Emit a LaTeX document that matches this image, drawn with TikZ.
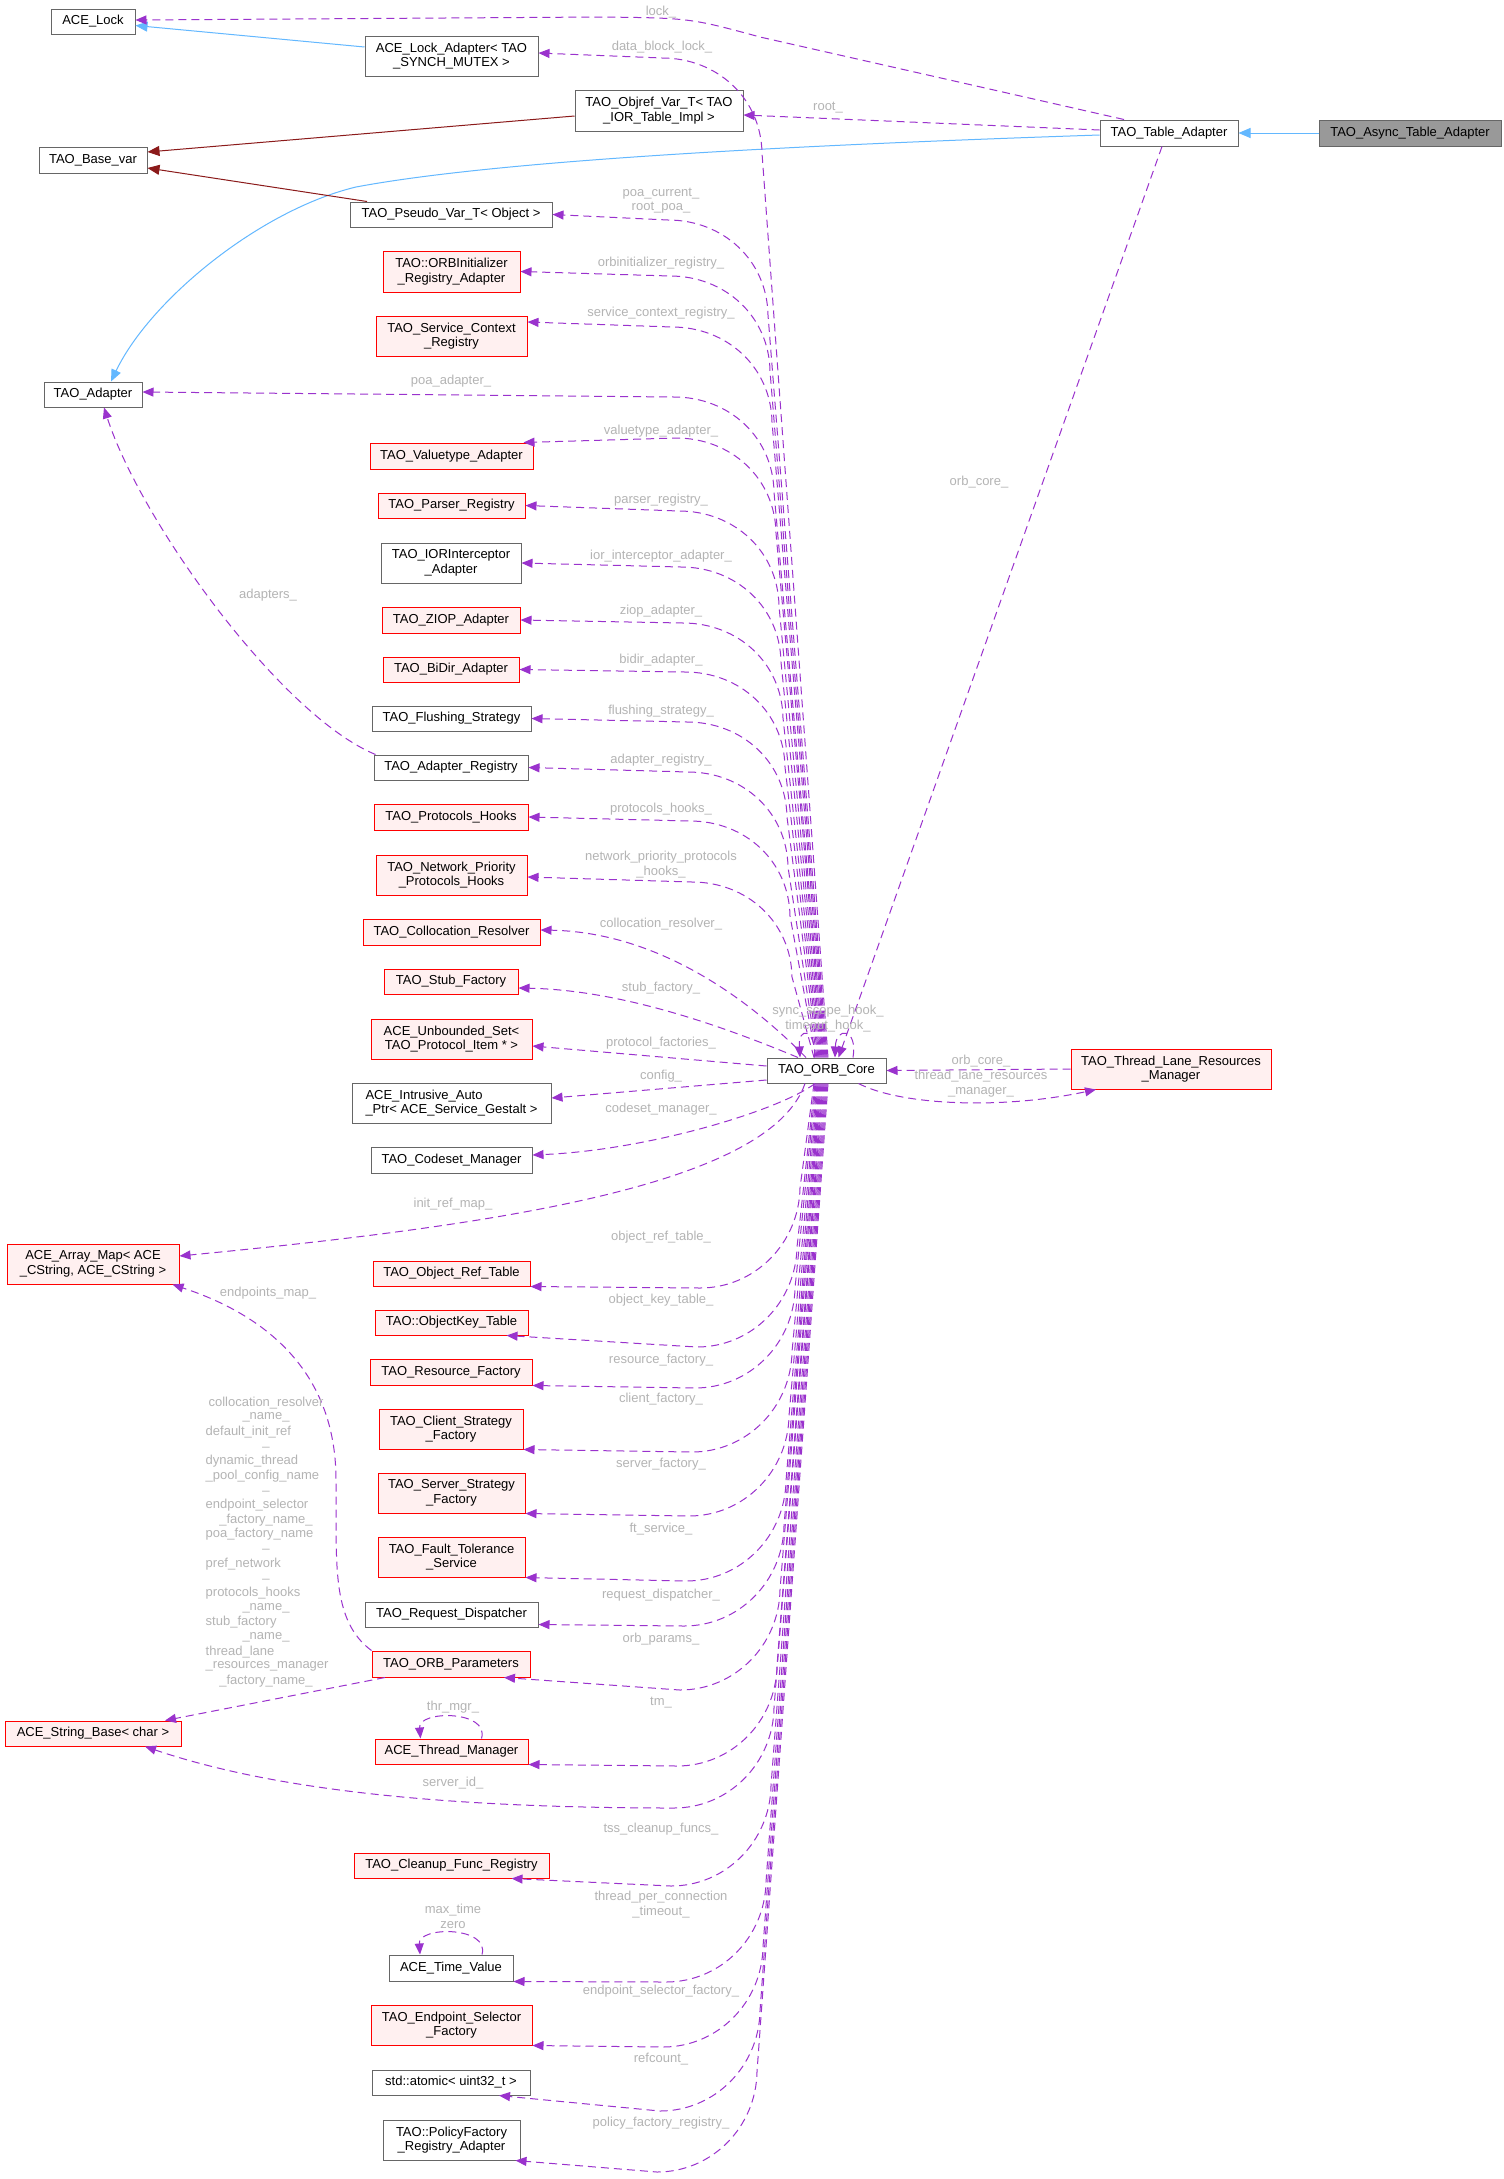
\documentclass[tikz,border=0pt]{standalone}
\usepackage{fontspec}
\setmainfont{Liberation Sans}
\usetikzlibrary{arrows.meta}
\definecolor{relc}{HTML}{9A32CD}
\definecolor{inhc}{HTML}{63B8FF}
\definecolor{tplc}{HTML}{8B1A1A}
\definecolor{gbd}{HTML}{666666}
\definecolor{rbd}{HTML}{FF0000}
\definecolor{rfill}{HTML}{FFF0F0}
\definecolor{afill}{HTML}{999999}
\definecolor{lblc}{HTML}{B4B4B4}
\newcommand\dxfont{\fontsize{13}{14.7}\selectfont}
\begin{document}
\begin{tikzpicture}[x=1pt,y=-1pt,
 cls/.style={draw=gbd, line width=1pt, fill=white, inner sep=0pt, align=center, font=\dxfont},
 rcls/.style={cls, draw=rbd, fill=rfill},
 acls/.style={cls, fill=afill},
 sz/.style 2 args={minimum width=#1pt, minimum height=#2pt},
 rel/.style={draw=relc, line width=1pt, dash pattern=on 8pt off 5pt, -{Triangle[length=11pt,width=9pt]}},
 inh/.style={draw=inhc, line width=1pt, -{Triangle[length=12pt,width=10pt]}},
 tpl/.style={draw=tplc, line width=1pt, -{Triangle[length=12pt,width=10pt]}},
 lbl/.style={text=lblc, font=\dxfont, inner sep=0pt, align=center}]
\fill[white] (0,0) rectangle (1504,2179);
\useasboundingbox (0,0) rectangle (1504,2179);

% ---------------- nodes
\node[cls,sz={84}{25}] (acelock) at (93,21.5) {ACE\_Lock};
\node[cls,sz={173}{40}] (lockadp) at (451.5,56) {ACE\_Lock\_Adapter< TAO\\\_SYNCH\_MUTEX >};
\node[cls,sz={168}{41}] (objref) at (659,110.5) {TAO\_Objref\_Var\_T< TAO\\\_IOR\_Table\_Impl >};
\node[cls,sz={108}{26}] (basevar) at (93,160) {TAO\_Base\_var};
\node[cls,sz={202}{25}] (pseudo) at (451,214.5) {TAO\_Pseudo\_Var\_T< Object >};
\node[rcls,sz={137}{41}] (orbinit) at (451.5,271.5) {TAO::ORBInitializer\\\_Registry\_Adapter};
\node[rcls,sz={151}{40}] (scr) at (451.5,336) {TAO\_Service\_Context\\\_Registry};
\node[cls,sz={98}{25}] (tadapter) at (93,394.5) {TAO\_Adapter};
\node[cls,sz={138}{26}] (tableadp) at (1169,133) {TAO\_Table\_Adapter};
\node[acls,sz={182}{26}] (async) at (1410,133) {TAO\_Async\_Table\_Adapter};
\node[rcls,sz={163}{26}] (vta) at (451.5,456) {TAO\_Valuetype\_Adapter};
\node[rcls,sz={147}{25}] (parser) at (451.5,505.5) {TAO\_Parser\_Registry};
\node[cls,sz={140}{40}] (ior) at (451,563) {TAO\_IORInterceptor\\\_Adapter};
\node[rcls,sz={138}{26}] (ziop) at (451,620) {TAO\_ZIOP\_Adapter};
\node[rcls,sz={136}{25}] (bidir) at (451,669.5) {TAO\_BiDir\_Adapter};
\node[cls,sz={159}{25}] (flush) at (451.5,718.5) {TAO\_Flushing\_Strategy};
\node[cls,sz={154}{25}] (areg) at (451,767.5) {TAO\_Adapter\_Registry};
\node[rcls,sz={154}{26}] (phooks) at (451,817) {TAO\_Protocols\_Hooks};
\node[rcls,sz={151}{40}] (npph) at (451.5,875) {TAO\_Network\_Priority\\\_Protocols\_Hooks};
\node[rcls,sz={177}{26}] (colres) at (451.5,932) {TAO\_Collocation\_Resolver};
\node[rcls,sz={134}{25}] (stubf) at (451,981.5) {TAO\_Stub\_Factory};
\node[rcls,sz={161}{40}] (uset) at (451.5,1039) {ACE\_Unbounded\_Set<\\TAO\_Protocol\_Item * >};
\node[cls,sz={199}{40},align=left] (iap) at (451.5,1103) {ACE\_Intrusive\_Auto\\\_Ptr< ACE\_Service\_Gestalt >};
\node[cls,sz={161}{26}] (codeset) at (451.5,1160) {TAO\_Codeset\_Manager};
\node[rcls,sz={172}{40}] (arraymap) at (93,1264) {ACE\_Array\_Map< ACE\\\_CString, ACE\_CString >};
\node[rcls,sz={157}{25}] (ortable) at (451.5,1273.5) {TAO\_Object\_Ref\_Table};
\node[rcls,sz={153}{25}] (oktable) at (451.5,1322.5) {TAO::ObjectKey\_Table};
\node[rcls,sz={162}{26}] (resf) at (451,1372) {TAO\_Resource\_Factory};
\node[rcls,sz={144}{40}] (csf) at (451,1429) {TAO\_Client\_Strategy\\\_Factory};
\node[rcls,sz={147}{40}] (ssf) at (451.5,1493) {TAO\_Server\_Strategy\\\_Factory};
\node[rcls,sz={147}{40}] (fts) at (451.5,1557) {TAO\_Fault\_Tolerance\\\_Service};
\node[cls,sz={173}{25}] (reqd) at (451.5,1614.5) {TAO\_Request\_Dispatcher};
\node[rcls,sz={158}{26}] (orbp) at (451,1664) {TAO\_ORB\_Parameters};
\node[rcls,sz={176}{25}] (strbase) at (93,1733.5) {ACE\_String\_Base< char >};
\node[rcls,sz={153}{25}] (thrmgr) at (451.5,1751.5) {ACE\_Thread\_Manager};
\node[rcls,sz={195}{25}] (cleanup) at (451.5,1865.5) {TAO\_Cleanup\_Func\_Registry};
\node[cls,sz={124}{26}] (timeval) at (451,1968) {ACE\_Time\_Value};
\node[rcls,sz={161}{40}] (esf) at (451.5,2025) {TAO\_Endpoint\_Selector\\\_Factory};
\node[cls,sz={158}{25}] (atomic) at (451,2082.5) {std::atomic< uint32\_t >};
\node[cls,sz={137}{40}] (pfra) at (451.5,2140) {TAO::PolicyFactory\\\_Registry\_Adapter};
\node[cls,sz={119}{25}] (core) at (826.5,1070.5) {TAO\_ORB\_Core};
\node[rcls,sz={200}{40}] (tlrm) at (1171,1069) {TAO\_Thread\_Lane\_Resources\\\_Manager};

% ---------------- inheritance / template edges
\draw[inh] (async.west) -- (tableadp.east);
\draw[inh] ([yshift=9pt]lockadp.west) -- ([yshift=-4pt]acelock.east);
\draw[inh] ([yshift=-2pt]tableadp.west) .. controls (800,145) and (500,160) .. (356,187)
  .. controls (260,210) and (150,300) .. ([xshift=18pt]tadapter.north);
\draw[tpl] ([yshift=-5.5pt]objref.west) -- ([yshift=8pt]basevar.east);
\draw[tpl] ([xshift=-84pt]pseudo.north) -- ([yshift=-8pt]basevar.east);

% ---------------- Table adapter usage edges
\draw[rel] ([xshift=-45pt]tableadp.north) -- (760,37) .. controls (690,18) .. (600,17) -- ([yshift=1.5pt]acelock.east);
\draw[rel] ([yshift=3pt]tableadp.west) -- ([yshift=-4.5pt]objref.east);
\draw[rel] ([xshift=-7pt]tableadp.south) -- ([xshift=12pt]core.north);

% ---------------- ORB core upward bundle
\draw[rel] ([xshift=1.5pt]core.north) -- (762,153) .. controls (761,98) and (717,58) .. (662,58) -- ([yshift=3pt]lockadp.east);
\draw[rel] ([xshift=0.5pt]core.north) -- (768,315) .. controls (767,260) and (723,220) .. (668,220) -- (pseudo.east);
\draw[rel] ([xshift=-0.5pt]core.north) -- (770,371) .. controls (769,316) and (725,276) .. (670,276) -- (orbinit.east);
\draw[rel] ([xshift=-1.5pt]core.north) -- (772,422) .. controls (771,367) and (727,327) .. (672,327) -- ([yshift=14pt]scr.east);
\draw[rel] ([xshift=-2.5pt]core.north) -- (774,492) .. controls (773,437) and (729,397) .. (674,397) -- ([yshift=2.5pt]tadapter.east);
\draw[rel] ([xshift=-3.5pt]core.north) -- (776,533) .. controls (775,478) and (731,438) .. (676,438) -- ([xshift=-10pt]vta.north east);
\draw[rel] ([xshift=-4.5pt]core.north) -- (779,606) .. controls (778,551) and (734,511) .. (679,511) -- (parser.east);
\draw[rel] ([xshift=-5.5pt]core.north) -- (781,662) .. controls (780,607) and (736,567) .. (681,567) -- (ior.east);
\draw[rel] ([xshift=-6.5pt]core.north) -- (783,718) .. controls (782,663) and (738,623) .. (683,623) -- (ziop.east);
\draw[rel] ([xshift=-7.5pt]core.north) -- (785,767) .. controls (784,712) and (740,672) .. (685,672) -- (bidir.east);
\draw[rel] ([xshift=-8.5pt]core.north) -- (787,817) .. controls (786,762) and (742,722) .. (687,722) -- (flush.east);
\draw[rel] ([xshift=-9.5pt]core.north) -- (788,867) .. controls (787,812) and (743,772) .. (688,772) -- (areg.east);
\draw[rel] ([xshift=-10.5pt]core.north) -- (790,916) .. controls (789,861) and (745,821) .. (690,821) -- (phooks.east);
\draw[rel] ([xshift=-12.5pt]core.north) -- (792,977) .. controls (791,922) and (747,882) .. (692,882) -- ([yshift=-2pt]npph.east);
\draw[rel] ([xshift=-20.5pt]core.north) .. controls (740,990) and (650,932) .. ([yshift=2pt]colres.east);
\draw[rel] ([xshift=-28.5pt]core.north) .. controls (720,1025) and (620,990) .. ([yshift=-6.5pt]stubf.east);
\draw[rel] ([yshift=4.5pt]core.west) -- ([yshift=-7pt]uset.east);
\draw[rel] ([yshift=-9.5pt]core.west) -- ([yshift=5pt]iap.east);
\draw[rel] ([xshift=-11.5pt]core.south) .. controls (780,1110) and (650,1150) .. ([yshift=5pt]codeset.east);
\draw[rel] ([xshift=-21.5pt]core.south) .. controls (770,1185) and (500,1225) .. ([yshift=8pt]arraymap.east);

% ---------------- ORB core downward bundle
\draw[rel] ([xshift=-12.5pt]core.south) -- (800,1188) .. controls (799,1243) and (755,1288) .. (700,1288) -- (ortable.south east);
\draw[rel] ([xshift=-11.5pt]core.south) -- (797,1247) .. controls (796,1302) and (752,1347) .. (697,1347) -- ([xshift=55pt]oktable.south);
\draw[rel] ([xshift=-10.5pt]core.south) -- (795,1288) .. controls (794,1343) and (750,1388) .. (695,1388) -- (resf.south east);
\draw[rel] ([xshift=-9.5pt]core.south) -- (792,1352) .. controls (791,1407) and (747,1452) .. (692,1452) -- (csf.south east);
\draw[rel] ([xshift=-8.5pt]core.south) -- (789,1416) .. controls (788,1471) and (744,1516) .. (689,1516) -- (ssf.south east);
\draw[rel] ([xshift=-7.5pt]core.south) -- (786,1481) .. controls (785,1536) and (741,1581) .. (686,1581) -- (fts.south east);
\draw[rel] ([xshift=-6.5pt]core.south) -- (784,1526) .. controls (783,1581) and (739,1626) .. (684,1626) -- ([yshift=3pt]reqd.south east);
\draw[rel] ([xshift=-5.5pt]core.south) -- (780,1590) .. controls (779,1645) and (735,1690) .. (680,1690) -- ([xshift=53pt]orbp.south);
\draw[rel] ([xshift=-4.5pt]core.south) -- (777,1666) .. controls (776,1721) and (732,1766) .. (677,1766) -- (thrmgr.south east);
\draw[rel] ([xshift=-3.5pt]core.south) -- (774,1708) .. controls (773,1763) and (729,1808) .. (674,1808)
  .. controls (400,1808) and (250,1782) .. ([xshift=52pt]strbase.south);
\draw[rel] ([xshift=-2.5pt]core.south) -- (771,1786) .. controls (770,1841) and (726,1886) .. (671,1886) -- ([xshift=60pt]cleanup.south);
\draw[rel] ([xshift=-1.5pt]core.south) -- (766,1882) .. controls (765,1937) and (721,1982) .. (666,1982) -- (timeval.south east);
\draw[rel] ([xshift=-0.5pt]core.south) -- (763,1947) .. controls (762,2002) and (718,2047) .. (663,2047) -- (esf.south east);
\draw[rel] ([xshift=0.5pt]core.south) -- (760,2011) .. controls (759,2066) and (715,2111) .. (660,2111) -- ([xshift=48pt]atomic.south);
\draw[rel] ([xshift=1.5pt]core.south) -- (757,2072) .. controls (756,2127) and (712,2172) .. (657,2172) -- ([xshift=-5pt]pfra.south east);

% ---------------- self loops
\draw[rel] ([xshift=-12pt]core.north) .. controls (816,1028) and (798,1026) .. ([xshift=-26.5pt]core.north);
\draw[rel] ([xshift=26.5pt]core.north) .. controls (858,1028) and (836,1026) .. ([xshift=8.5pt]core.north);
\draw[rel] ([xshift=30pt]thrmgr.north) .. controls (490,1710) and (418,1710) .. ([xshift=-31pt]thrmgr.north);
\draw[rel] ([xshift=31pt]timeval.north) .. controls (490,1926) and (418,1926) .. ([xshift=-31pt]timeval.north);

% ---------------- thread lane manager
\draw[rel] (tlrm.west) -- (core.east);
\draw[rel] ([xshift=32pt]core.south) .. controls (900,1105) and (1000,1110) .. ([xshift=-75pt]tlrm.south);

% ---------------- other usage edges
\draw[rel] ([xshift=2pt]areg.north west) .. controls (280,715) and (140,520) .. ([xshift=11pt]tadapter.south);
\draw[rel] (orbp.north west) .. controls (330,1620) and (337,1560) .. (336,1480)
  .. controls (336,1360) and (250,1310) .. ([xshift=-7pt]arraymap.south east);
\draw[rel] ([xshift=-66pt]orbp.south) -- ([xshift=72pt]strbase.north);

% ---------------- edge labels
\node[lbl] (l01) at (661,12) {lock\_};
\node[lbl] (l02) at (662,47) {data\_block\_lock\_};
\node[lbl] (l03) at (828,108) {root\_};
\node[lbl] (l04) at (661,200.5) {poa\_current\_\\root\_poa\_};
\node[lbl] (l05) at (661,263) {orbinitializer\_registry\_};
\node[lbl] (l06) at (661,313) {service\_context\_registry\_};
\node[lbl] (l07) at (451,381) {poa\_adapter\_};
\node[lbl] (l08) at (661,431) {valuetype\_adapter\_};
\node[lbl] (l09) at (661,500) {parser\_registry\_};
\node[lbl] (l10) at (661,556) {ior\_interceptor\_adapter\_};
\node[lbl] (l11) at (661,611) {ziop\_adapter\_};
\node[lbl] (l12) at (661,660) {bidir\_adapter\_};
\node[lbl] (l13) at (661,711) {flushing\_strategy\_};
\node[lbl] (l14) at (661,760) {adapter\_registry\_};
\node[lbl] (l15) at (661,809) {protocols\_hooks\_};
\node[lbl] (l16) at (661,864.5) {network\_priority\_protocols\\\_hooks\_};
\node[lbl] (l17) at (661,924) {collocation\_resolver\_};
\node[lbl] (l18) at (661,988) {stub\_factory\_};
\node[lbl] (l19) at (661,1043) {protocol\_factories\_};
\node[lbl] (l20) at (661,1076) {config\_};
\node[lbl] (l21) at (661,1109) {codeset\_manager\_};
\node[lbl] (l22) at (453,1204) {init\_ref\_map\_};
\node[lbl] (l23) at (661,1237) {object\_ref\_table\_};
\node[lbl] (l24) at (661,1300) {object\_key\_table\_};
\node[lbl] (l25) at (661,1360) {resource\_factory\_};
\node[lbl] (l26) at (661,1399) {client\_factory\_};
\node[lbl] (l27) at (661,1464) {server\_factory\_};
\node[lbl] (l28) at (661,1529) {ft\_service\_};
\node[lbl] (l29) at (661,1595) {request\_dispatcher\_};
\node[lbl] (l30) at (661,1639) {orb\_params\_};
\node[lbl] (l31) at (661,1703) {tm\_};
\node[lbl] (l32) at (453,1707) {thr\_mgr\_};
\node[lbl] (l33) at (453,1783) {server\_id\_};
\node[lbl] (l34) at (661,1829) {tss\_cleanup\_funcs\_};
\node[lbl] (l35) at (661,1904.5) {thread\_per\_connection\\\_timeout\_};
\node[lbl] (l36) at (453,1916) {max\_time\\zero};
\node[lbl] (l37) at (661,1991) {endpoint\_selector\_factory\_};
\node[lbl] (l38) at (661,2059) {refcount\_};
\node[lbl] (l39) at (661,2123) {policy\_factory\_registry\_};
\node[lbl] (l40) at (268,595) {adapters\_};
\node[lbl] (l41) at (268,1293) {endpoints\_map\_};
\node[lbl] (l42) at (979,482) {orb\_core\_};
\node[lbl] (l43) at (828,1018.5) {sync\_scope\_hook\_\\timeout\_hook\_};
\node[lbl] (l44) at (981,1061) {orb\_core\_};
\node[lbl] (l45) at (981,1083.5) {thread\_lane\_resources\\\_manager\_};

% multi-line label of TAO_ORB_Parameters -> ACE_String_Base
\node[lbl] (m01) at (266,1402.7) {collocation\_resolver};
\node[lbl] (m02) at (266,1417.4) {\_name\_};
\node[lbl,anchor=west] (m03) at (205.5,1432.0) {default\_init\_ref};
\node[lbl] (m04) at (266,1446.7) {\_};
\node[lbl,anchor=west] (m05) at (205.5,1461.3) {dynamic\_thread};
\node[lbl,anchor=west] (m06) at (205.5,1476.0) {\_pool\_config\_name};
\node[lbl] (m07) at (266,1490.6) {\_};
\node[lbl,anchor=west] (m08) at (205.5,1505.3) {endpoint\_selector};
\node[lbl] (m09) at (266,1519.9) {\_factory\_name\_};
\node[lbl,anchor=west] (m10) at (205.5,1534.6) {poa\_factory\_name};
\node[lbl] (m11) at (266,1549.2) {\_};
\node[lbl,anchor=west] (m12) at (205.5,1563.9) {pref\_network};
\node[lbl] (m13) at (266,1578.5) {\_};
\node[lbl,anchor=west] (m14) at (205.5,1593.2) {protocols\_hooks};
\node[lbl] (m15) at (266,1607.8) {\_name\_};
\node[lbl,anchor=west] (m16) at (205.5,1622.5) {stub\_factory};
\node[lbl] (m17) at (266,1637.1) {\_name\_};
\node[lbl,anchor=west] (m18) at (205.5,1651.8) {thread\_lane};
\node[lbl,anchor=west] (m19) at (205.5,1666.4) {\_resources\_manager};
\node[lbl] (m20) at (266,1681.1) {\_factory\_name\_};
\end{tikzpicture}
\end{document}
